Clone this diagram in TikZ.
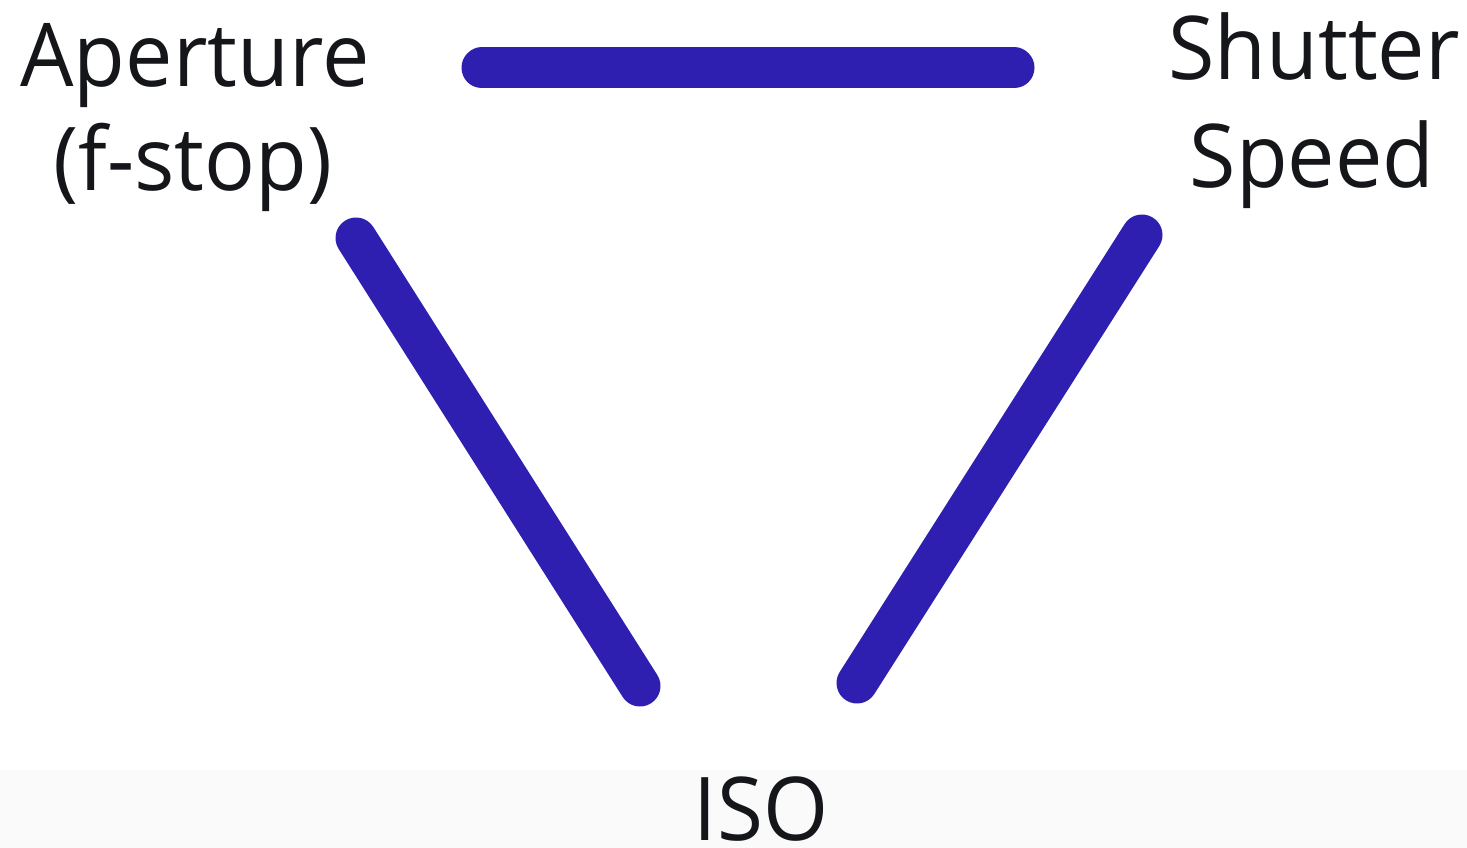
\documentclass[tikz,border=0pt]{standalone}
\usepackage{fontspec}
\setmainfont{Open Sans}
\definecolor{barblue}{RGB}{46,31,176}
\definecolor{stripgray}{RGB}{250,250,250}
\definecolor{txt}{RGB}{20,22,26}
\tikzset{
  bar/.style={draw=barblue, line width=41pt, line cap=round},
  lbl/.style={font=\fontsize{88}{104}\selectfont, text=txt, inner sep=0pt, align=center, xscale=0.96}
}
\begin{document}
\begin{tikzpicture}[x=1pt,y=-1pt]
\useasboundingbox (0,0) rectangle (1467,848);
\fill[white] (0,0) rectangle (1467,848);
\fill[stripgray] (0,770) rectangle (1467,848);
\node[lbl, anchor=base] (ap) at (195,87) {Aperture};
\node[lbl, anchor=base] (fs) at (193,190) {(f-stop)};
\node[lbl, anchor=base] (sh) at (1314,80) {Shutter};
\node[lbl, anchor=base] (sp) at (1312,187) {Speed};
\node[lbl, anchor=base, xscale=0.99, text depth=0pt] (iso) at (761,840) {ISO};
\coordinate (t1) at (482,68);
\coordinate (t2) at (1014,68);
\coordinate (l1) at (356,238);
\coordinate (l2) at (640,686);
\coordinate (r1) at (1142,235);
\coordinate (r2) at (857,683);
\draw[bar] (t1) -- (t2);
\draw[bar] (l1) -- (l2);
\draw[bar] (r1) -- (r2);
\end{tikzpicture}
\end{document}
